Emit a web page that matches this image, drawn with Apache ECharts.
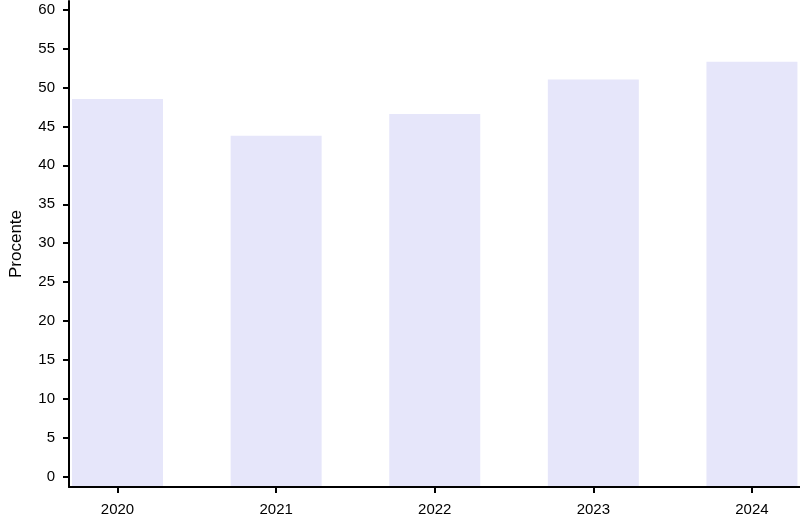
<!DOCTYPE html>
<html lang="ro">
<head>
    <meta charset="UTF-8">
    <title>Procente</title>
    <script src="https://cdn.jsdelivr.net/npm/echarts@6/dist/echarts.min.js"></script>
    <style>
        html, body { margin: 0; padding: 0; background: #fff; }
        #chartmain { width: 800px; height: 521px; }
    </style>
</head>
<body>
<div id="chartmain"></div>
<script>
    // date
    var years = ['2020', '2021', '2022', '2023', '2024'];
    var values = [48.5, 43.8, 46.6, 51.0, 53.3];
    var yTicks = [0, 5, 10, 15, 20, 25, 30, 35, 40, 45, 50, 55, 60];
    var xTicks = [0, 1, 2, 3, 4];

    var font = 'Liberation Sans';
    var points = values.map(function (v, i) { return [i, v]; });

    var option = {
        animation: false,
        grid: {left: 69, right: 0, top: 1, bottom: 34, outerBoundsMode: 'none', containLabel: false},
        xAxis: {
            type: 'value',
            min: -0.306,
            max: 4.303,
            z: 5,
            splitLine: {show: false},
            axisLine: {show: true, onZero: false, lineStyle: {color: '#000', width: 2}},
            axisTick: {show: true, length: 6, customValues: xTicks, lineStyle: {color: '#000', width: 2}},
            axisLabel: {
                customValues: xTicks,
                margin: 15,
                color: '#000',
                fontFamily: font,
                fontSize: 15,
                formatter: function (v) { return years[Math.round(v)]; }
            }
        },
        yAxis: {
            type: 'value',
            min: -1.283,
            max: 61.09,
            startValue: -1.283,
            z: 5,
            name: 'Procente',
            nameLocation: 'middle',
            nameGap: 44,
            nameTextStyle: {color: '#000', fontFamily: font, fontSize: 17},
            splitLine: {show: false},
            axisLine: {show: true, onZero: false, lineStyle: {color: '#000', width: 2}},
            axisTick: {show: true, length: 6, customValues: yTicks, lineStyle: {color: '#000', width: 2}},
            axisLabel: {
                customValues: yTicks,
                margin: 14,
                color: '#000',
                fontFamily: font,
                fontSize: 15
            }
        },
        series: [{
            type: 'bar',
            data: points,
            barWidth: 91,
            itemStyle: {color: '#e6e6fa'}
        }]
    };

    var myChart = echarts.init(document.getElementById('chartmain'));
    myChart.setOption(option);
</script>
</body>
</html>
